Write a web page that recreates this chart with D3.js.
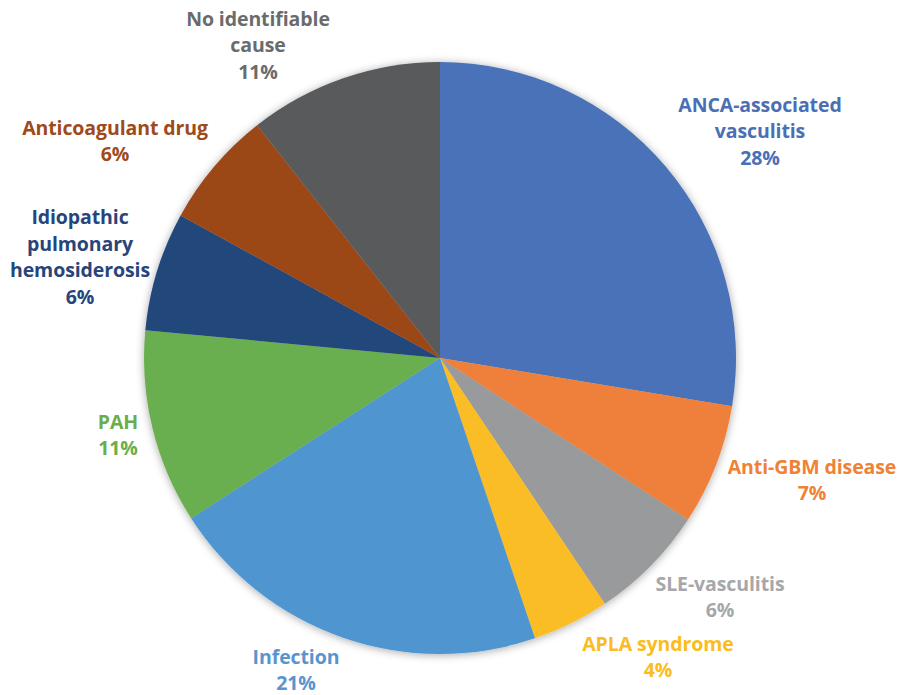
<!DOCTYPE html>
<html><head><meta charset="utf-8">
<script src="https://cdn.jsdelivr.net/npm/d3@7"></script>
<style>html,body{margin:0;padding:0;background:#fff}</style>
</head><body>
<svg id="chart" width="897" height="695"></svg>
<script>
const categories = ["ANCA-associated vasculitis","Anti-GBM disease","SLE-vasculitis","APLA syndrome","Infection","PAH","Idiopathic pulmonary hemosiderosis","Anticoagulant drug","No identifiable cause"];
const values = [27.6, 6.6, 6.4, 4.2, 21.1, 10.6, 6.5, 6.4, 10.6];
const percentLabels = ["28%","7%","6%","4%","21%","11%","6%","6%","11%"];
const labelLines = [["ANCA-associated","vasculitis"],["Anti-GBM disease"],["SLE-vasculitis"],["APLA syndrome"],["Infection"],["PAH"],["Idiopathic","pulmonary","hemosiderosis"],["Anticoagulant drug"],["No identifiable","cause"]];
const sliceColors = ["#4a72b9","#ef803a","#999a9c","#fbbd26","#5096d0","#6aaf50","#24467a","#9b4618","#595a5c"];
const textColors = ["#4a6fb5","#ef8234","#a6a7a9","#fbbc1d","#5895d0","#6aae4c","#27457a","#9e4a1b","#6a6b6d"];
// label block centres (layout only)
const labelPos = [[760,131],[812,480],[720,597],[658,657],[296,670],[118,435],[80,257],[115,141],[258,45]];

const svg = d3.select("#chart");
const cx = 440, cy = 358, R = 296;
const defs = svg.append("defs");
const f = defs.append("filter").attr("id","sh").attr("x","-10%").attr("y","-10%").attr("width","120%").attr("height","120%");
f.append("feDropShadow").attr("dx",0).attr("dy",1).attr("stdDeviation",4).attr("flood-color","#000").attr("flood-opacity",0.35);

const pie = d3.pie().sort(null).value(d => d);
const arcs = pie(values);
const arc = d3.arc().innerRadius(0).outerRadius(R);
const g = svg.append("g").attr("transform",`translate(${cx},${cy})`);
g.append("g").attr("filter","url(#sh)").selectAll("path").data(arcs).join("path")
  .attr("d", arc).attr("fill",(d,i)=>sliceColors[i]);

const lh = 26.5;
const lg = svg.append("g").attr("font-family","'Open Sans', Lato, sans-serif").attr("font-weight","bold").attr("font-size",19.5).attr("text-anchor","middle").attr("letter-spacing",-0.1);
labelLines.forEach((lines,i)=>{
  const all = lines.concat([percentLabels[i]]);
  const n = all.length;
  const [x,y] = labelPos[i];
  const t = lg.append("text").attr("fill",textColors[i]);
  all.forEach((s,k)=>{
    t.append("tspan").attr("x",x).attr("y", y + (k-(n-1)/2)*lh + 7).text(s);
  });
});
</script>
</body></html>
